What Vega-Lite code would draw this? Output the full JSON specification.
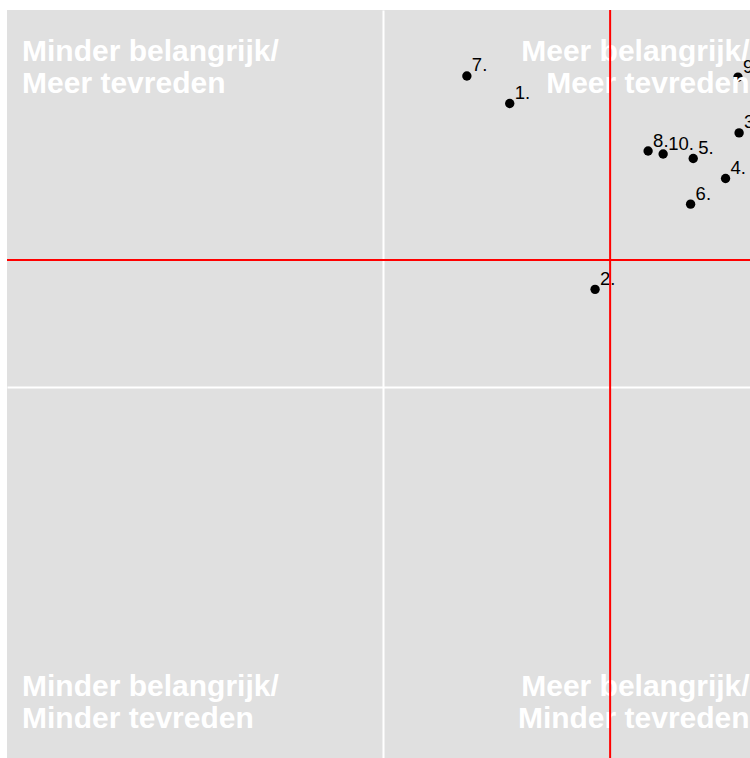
{
  "$schema": "https://vega.github.io/schema/vega-lite/v6.json",
  "width": 743,
  "height": 748,
  "autosize": {"type": "none"},
  "padding": {"left": 7, "top": 10, "right": 0, "bottom": 0},
  "background": "white",
  "config": {"view": {"fill": "#e0e0e0", "stroke": null}, "font": "Liberation Sans"},
  "datasets": {
    "items": [
      {"label": "1.", "x": 0.337, "y": 0.752},
      {"label": "2.", "x": 0.564, "y": 0.259},
      {"label": "3.", "x": 0.947, "y": 0.674},
      {"label": "4.", "x": 0.911, "y": 0.553},
      {"label": "5.", "x": 0.825, "y": 0.606},
      {"label": "6.", "x": 0.818, "y": 0.485},
      {"label": "7.", "x": 0.223, "y": 0.825},
      {"label": "8.", "x": 0.705, "y": 0.626},
      {"label": "9.", "x": 0.944, "y": 0.822},
      {"label": "10.", "x": 0.745, "y": 0.618}
    ],
    "quadrants": [
      {"label": "Minder belangrijk/\nMeer tevreden", "side": "left", "x": -0.96, "y": 0.865},
      {"label": "Minder belangrijk/\nMinder tevreden", "side": "left", "x": -0.96, "y": -0.819},
      {"label": "Meer belangrijk/\nMeer tevreden", "side": "right", "x": 0.975, "y": 0.865},
      {"label": "Meer belangrijk/\nMinder tevreden", "side": "right", "x": 0.975, "y": -0.819}
    ],
    "vline": [{"x": 0.604}],
    "hline": [{"y": 0.337}]
  },
  "layer": [
    {
      "data": {"name": "items"},
      "mark": {"type": "point", "filled": true, "shape": "circle", "size": 88, "color": "black", "opacity": 1},
      "encoding": {
        "x": {"field": "x", "type": "quantitative", "scale": {"domain": [-1, 0.976], "nice": false, "zero": false},
          "axis": {"values": [0], "grid": true, "gridColor": "white", "gridWidth": 2, "gridOpacity": 1, "labels": false, "ticks": false, "domain": false, "title": null}},
        "y": {"field": "y", "type": "quantitative", "scale": {"domain": [-0.984, 1], "nice": false, "zero": false},
          "axis": {"values": [0], "grid": true, "gridColor": "white", "gridWidth": 2, "gridOpacity": 1, "labels": false, "ticks": false, "domain": false, "title": null}}
      }
    },
    {
      "data": {"name": "items"},
      "mark": {"type": "text", "align": "left", "baseline": "alphabetic", "dx": 5, "dy": -4.5, "fontSize": 18.5, "color": "black"},
      "encoding": {
        "x": {"field": "x", "type": "quantitative"},
        "y": {"field": "y", "type": "quantitative"},
        "text": {"field": "label"}
      }
    },
    {
      "data": {"name": "quadrants"},
      "transform": [{"filter": "datum.side === 'left'"}],
      "mark": {"type": "text", "align": "left", "baseline": "alphabetic", "fontSize": 30, "fontWeight": "bold", "color": "white", "lineBreak": "\n", "lineHeight": 32},
      "encoding": {
        "x": {"field": "x", "type": "quantitative"},
        "y": {"field": "y", "type": "quantitative"},
        "text": {"field": "label"}
      }
    },
    {
      "data": {"name": "quadrants"},
      "transform": [{"filter": "datum.side === 'right'"}],
      "mark": {"type": "text", "align": "right", "baseline": "alphabetic", "fontSize": 30, "fontWeight": "bold", "color": "white", "lineBreak": "\n", "lineHeight": 32},
      "encoding": {
        "x": {"field": "x", "type": "quantitative"},
        "y": {"field": "y", "type": "quantitative"},
        "text": {"field": "label"}
      }
    },
    {
      "data": {"name": "vline"},
      "mark": {"type": "rule", "color": "#ff0000", "strokeWidth": 2},
      "encoding": {"x": {"field": "x", "type": "quantitative"}}
    },
    {
      "data": {"name": "hline"},
      "mark": {"type": "rule", "color": "#ff0000", "strokeWidth": 2},
      "encoding": {"y": {"field": "y", "type": "quantitative"}}
    }
  ]
}
